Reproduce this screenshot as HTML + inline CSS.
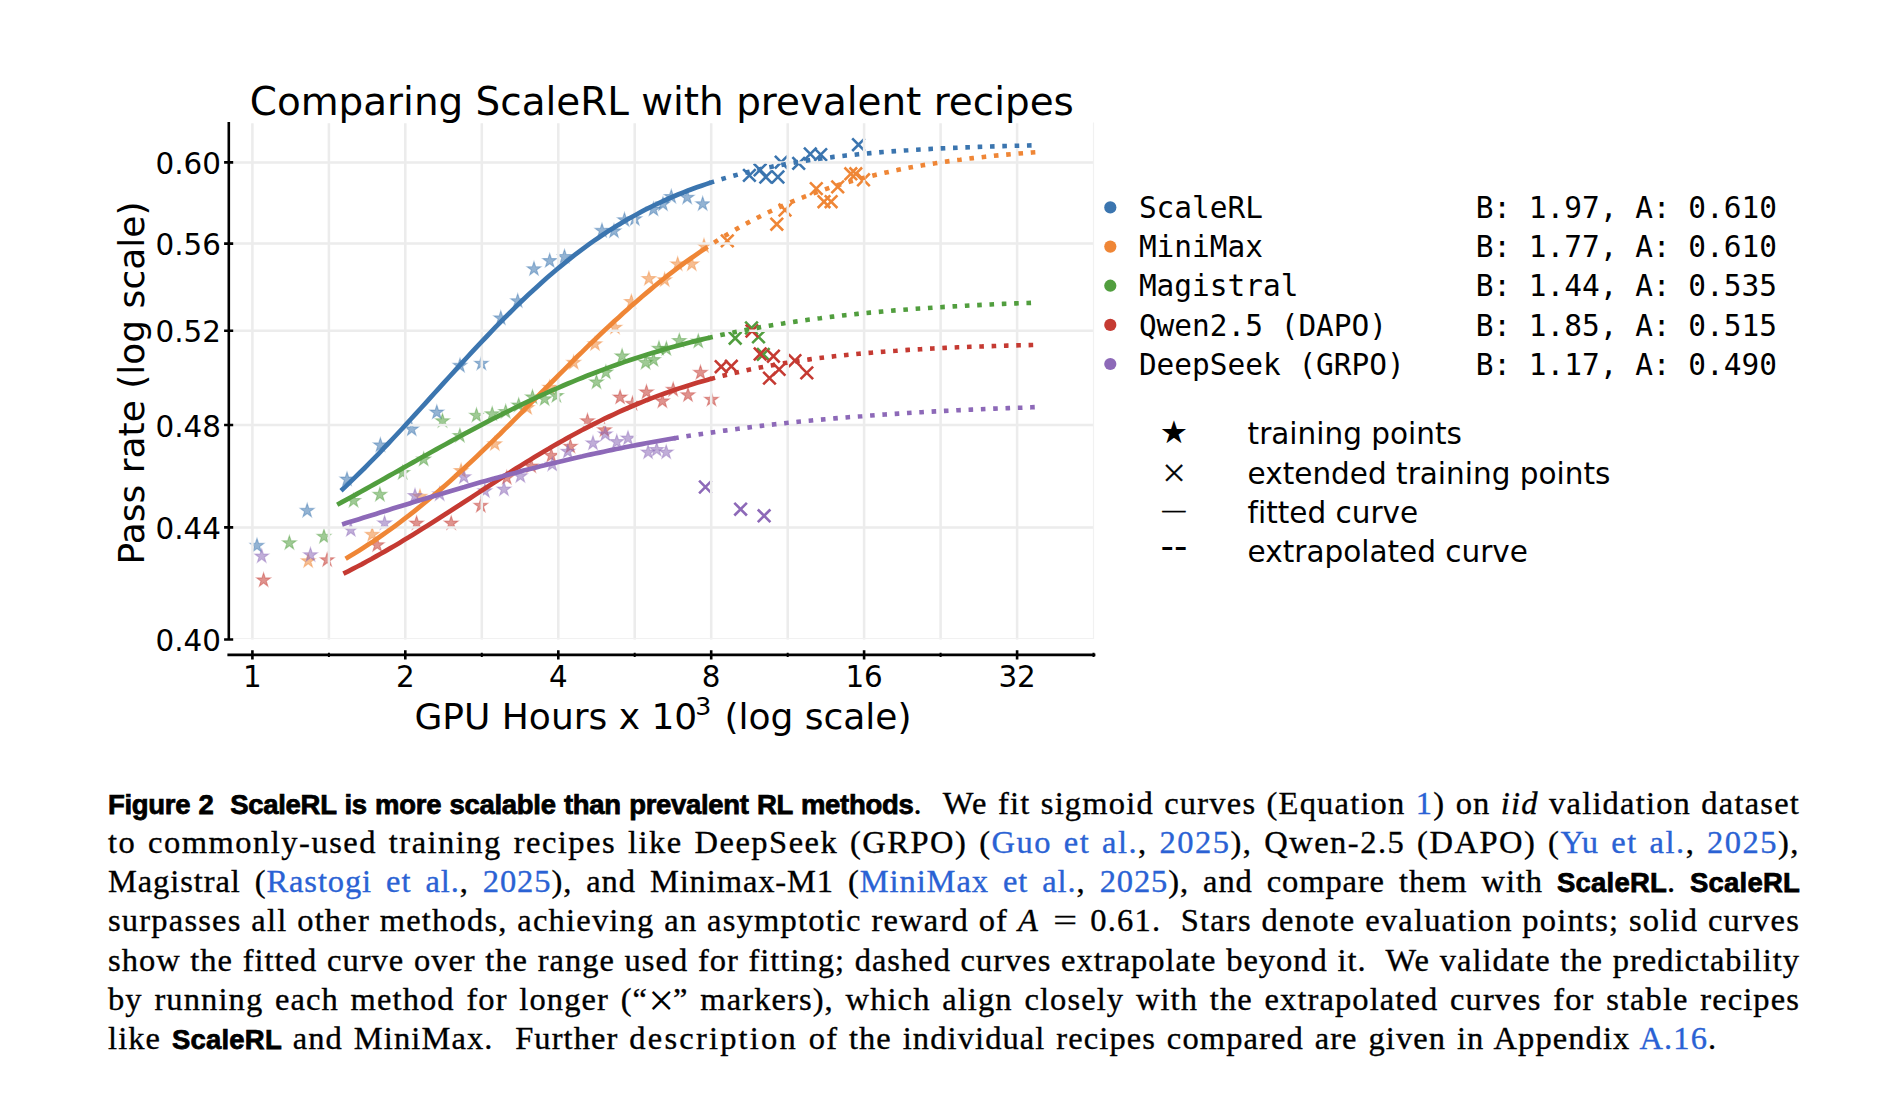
<!DOCTYPE html>
<html><head><meta charset="utf-8"><title>Figure 2</title>
<style>
html,body{margin:0;padding:0;background:#fff}
body{width:1890px;height:1094px;position:relative;overflow:hidden}
.ln{position:absolute;left:108px;width:1692px;height:40px;line-height:40px;font-family:"Liberation Serif",serif;font-size:32.5px;color:#000;text-align:justify;text-align-last:justify;white-space:nowrap;-webkit-text-stroke:0.35px currentColor}
.ln.last{text-align:left;text-align-last:left;word-spacing:1.6px}
.ln b{font-family:"Liberation Sans",sans-serif;font-weight:bold;font-size:27.5px;letter-spacing:-0.3px;-webkit-text-stroke:0.75px currentColor}
.ln b.s{letter-spacing:0.2px}
.ln .eq{display:inline-block;transform:scaleX(1.3);margin:0 16px 0 17px;letter-spacing:0}
.ln .w{letter-spacing:2.2px}
.ln .l{color:#2a62d4}
.ln .x{font-size:46px;line-height:0;position:relative;top:6.5px;letter-spacing:0;margin:0 -1px 0 0;-webkit-text-stroke:0}
</style></head><body>
<svg width="1890" height="760" viewBox="0 0 1890 760" style="position:absolute;left:0;top:0">
<g stroke-width="1.1" stroke-linejoin="miter">
<g fill="#3b75af" fill-opacity="0.55" stroke="#3b75af" stroke-opacity="0.4">
<polygon points="257.0,538.3 258.7,543.4 264.0,543.4 259.7,546.6 261.3,551.7 257.0,548.5 252.7,551.7 254.3,546.6 250.0,543.4 255.3,543.4"/>
<polygon points="307.2,503.3 308.9,508.4 314.2,508.4 309.9,511.6 311.5,516.7 307.2,513.5 302.9,516.7 304.5,511.6 300.2,508.4 305.5,508.4"/>
<polygon points="347.0,472.0 348.7,477.1 354.0,477.1 349.7,480.3 351.3,485.4 347.0,482.2 342.7,485.4 344.3,480.3 340.0,477.1 345.3,477.1"/>
<polygon points="380.4,437.8 382.1,442.9 387.4,442.9 383.1,446.1 384.7,451.2 380.4,448.0 376.1,451.2 377.7,446.1 373.4,442.9 378.7,442.9"/>
<polygon points="411.7,421.8 413.4,426.9 418.7,426.9 414.4,430.1 416.0,435.2 411.7,432.0 407.4,435.2 409.0,430.1 404.7,426.9 410.0,426.9"/>
<polygon points="436.8,405.0 438.5,410.1 443.8,410.1 439.5,413.3 441.1,418.4 436.8,415.2 432.5,418.4 434.1,413.3 429.8,410.1 435.1,410.1"/>
<polygon points="460.0,358.3 461.7,363.4 467.0,363.4 462.7,366.6 464.3,371.7 460.0,368.5 455.7,371.7 457.3,366.6 453.0,363.4 458.3,363.4"/>
<polygon points="481.4,356.1 483.1,361.2 488.4,361.2 484.1,364.4 485.7,369.5 481.4,366.3 477.1,369.5 478.7,364.4 474.4,361.2 479.7,361.2"/>
<polygon points="500.8,310.8 502.5,315.9 507.8,315.9 503.5,319.1 505.1,324.2 500.8,321.0 496.5,324.2 498.1,319.1 493.8,315.9 499.1,315.9"/>
<polygon points="517.7,293.7 519.4,298.8 524.7,298.8 520.4,302.0 522.0,307.1 517.7,303.9 513.4,307.1 515.0,302.0 510.7,298.8 516.0,298.8"/>
<polygon points="534.0,261.6 535.7,266.7 541.0,266.7 536.7,269.9 538.3,275.0 534.0,271.8 529.7,275.0 531.3,269.9 527.0,266.7 532.3,266.7"/>
<polygon points="549.7,253.5 551.4,258.6 556.7,258.6 552.4,261.8 554.0,266.9 549.7,263.7 545.4,266.9 547.0,261.8 542.7,258.6 548.0,258.6"/>
<polygon points="564.5,249.4 566.2,254.5 571.5,254.5 567.2,257.7 568.8,262.8 564.5,259.6 560.2,262.8 561.8,257.7 557.5,254.5 562.8,254.5"/>
<polygon points="602.0,223.3 603.7,228.4 609.0,228.4 604.7,231.6 606.3,236.7 602.0,233.5 597.7,236.7 599.3,231.6 595.0,228.4 600.3,228.4"/>
<polygon points="614.0,223.8 615.7,228.9 621.0,228.9 616.7,232.1 618.3,237.2 614.0,234.0 609.7,237.2 611.3,232.1 607.0,228.9 612.3,228.9"/>
<polygon points="624.5,212.6 626.2,217.7 631.5,217.7 627.2,220.9 628.8,226.0 624.5,222.8 620.2,226.0 621.8,220.9 617.5,217.7 622.8,217.7"/>
<polygon points="634.8,211.6 636.5,216.7 641.8,216.7 637.5,219.9 639.1,225.0 634.8,221.8 630.5,225.0 632.1,219.9 627.8,216.7 633.1,216.7"/>
<polygon points="653.5,202.0 655.2,207.1 660.5,207.1 656.2,210.3 657.8,215.4 653.5,212.2 649.2,215.4 650.8,210.3 646.5,207.1 651.8,207.1"/>
<polygon points="663.0,196.8 664.7,201.9 670.0,201.9 665.7,205.1 667.3,210.2 663.0,207.0 658.7,210.2 660.3,205.1 656.0,201.9 661.3,201.9"/>
<polygon points="671.3,189.4 673.0,194.5 678.3,194.5 674.0,197.7 675.6,202.8 671.3,199.6 667.0,202.8 668.6,197.7 664.3,194.5 669.6,194.5"/>
<polygon points="687.2,190.1 688.9,195.2 694.2,195.2 689.9,198.4 691.5,203.5 687.2,200.3 682.9,203.5 684.5,198.4 680.2,195.2 685.5,195.2"/>
<polygon points="702.7,196.6 704.4,201.7 709.7,201.7 705.4,204.9 707.0,210.0 702.7,206.8 698.4,210.0 700.0,204.9 695.7,201.7 701.0,201.7"/>
</g>
<g fill="#ef8636" fill-opacity="0.55" stroke="#ef8636" stroke-opacity="0.4">
<polygon points="308.2,553.6 309.9,558.7 315.2,558.7 310.9,561.9 312.5,567.0 308.2,563.8 303.9,567.0 305.5,561.9 301.2,558.7 306.5,558.7"/>
<polygon points="372.2,527.3 373.9,532.4 379.2,532.4 374.9,535.6 376.5,540.7 372.2,537.5 367.9,540.7 369.5,535.6 365.2,532.4 370.5,532.4"/>
<polygon points="420.0,489.3 421.7,494.4 427.0,494.4 422.7,497.6 424.3,502.7 420.0,499.5 415.7,502.7 417.3,497.6 413.0,494.4 418.3,494.4"/>
<polygon points="461.1,463.5 462.8,468.6 468.1,468.6 463.8,471.8 465.4,476.9 461.1,473.7 456.8,476.9 458.4,471.8 454.1,468.6 459.4,468.6"/>
<polygon points="494.8,436.7 496.5,441.8 501.8,441.8 497.5,445.0 499.1,450.1 494.8,446.9 490.5,450.1 492.1,445.0 487.8,441.8 493.1,441.8"/>
<polygon points="527.2,400.5 528.9,405.6 534.2,405.6 529.9,408.8 531.5,413.9 527.2,410.7 522.9,413.9 524.5,408.8 520.2,405.6 525.5,405.6"/>
<polygon points="549.6,380.1 551.3,385.2 556.6,385.2 552.3,388.4 553.9,393.5 549.6,390.3 545.3,393.5 546.9,388.4 542.6,385.2 547.9,385.2"/>
<polygon points="573.7,355.3 575.4,360.4 580.7,360.4 576.4,363.6 578.0,368.7 573.7,365.5 569.4,368.7 571.0,363.6 566.7,360.4 572.0,360.4"/>
<polygon points="595.0,336.7 596.7,341.8 602.0,341.8 597.7,345.0 599.3,350.1 595.0,346.9 590.7,350.1 592.3,345.0 588.0,341.8 593.3,341.8"/>
<polygon points="615.0,320.1 616.7,325.2 622.0,325.2 617.7,328.4 619.3,333.5 615.0,330.3 610.7,333.5 612.3,328.4 608.0,325.2 613.3,325.2"/>
<polygon points="631.4,294.4 633.1,299.5 638.4,299.5 634.1,302.7 635.7,307.8 631.4,304.6 627.1,307.8 628.7,302.7 624.4,299.5 629.7,299.5"/>
<polygon points="648.9,271.4 650.6,276.5 655.9,276.5 651.6,279.7 653.2,284.8 648.9,281.6 644.6,284.8 646.2,279.7 641.9,276.5 647.2,276.5"/>
<polygon points="664.7,272.6 666.4,277.7 671.7,277.7 667.4,280.9 669.0,286.0 664.7,282.8 660.4,286.0 662.0,280.9 657.7,277.7 663.0,277.7"/>
<polygon points="677.7,256.8 679.4,261.9 684.7,261.9 680.4,265.1 682.0,270.2 677.7,267.0 673.4,270.2 675.0,265.1 670.7,261.9 676.0,261.9"/>
<polygon points="691.8,256.8 693.5,261.9 698.8,261.9 694.5,265.1 696.1,270.2 691.8,267.0 687.5,270.2 689.1,265.1 684.8,261.9 690.1,261.9"/>
<polygon points="704.0,238.6 705.7,243.7 711.0,243.7 706.7,246.9 708.3,252.0 704.0,248.8 699.7,252.0 701.3,246.9 697.0,243.7 702.3,243.7"/>
</g>
<g fill="#519e3e" fill-opacity="0.55" stroke="#519e3e" stroke-opacity="0.4">
<polygon points="289.4,535.6 291.1,540.7 296.4,540.7 292.1,543.9 293.7,549.0 289.4,545.8 285.1,549.0 286.7,543.9 282.4,540.7 287.7,540.7"/>
<polygon points="324.0,529.3 325.7,534.4 331.0,534.4 326.7,537.6 328.3,542.7 324.0,539.5 319.7,542.7 321.3,537.6 317.0,534.4 322.3,534.4"/>
<polygon points="353.6,493.4 355.3,498.5 360.6,498.5 356.3,501.7 357.9,506.8 353.6,503.6 349.3,506.8 350.9,501.7 346.6,498.5 351.9,498.5"/>
<polygon points="379.9,487.3 381.6,492.4 386.9,492.4 382.6,495.6 384.2,500.7 379.9,497.5 375.6,500.7 377.2,495.6 372.9,492.4 378.2,492.4"/>
<polygon points="402.7,465.5 404.4,470.6 409.7,470.6 405.4,473.8 407.0,478.9 402.7,475.7 398.4,478.9 400.0,473.8 395.7,470.6 401.0,470.6"/>
<polygon points="423.7,452.0 425.4,457.1 430.7,457.1 426.4,460.3 428.0,465.4 423.7,462.2 419.4,465.4 421.0,460.3 416.7,457.1 422.0,457.1"/>
<polygon points="442.5,413.6 444.2,418.7 449.5,418.7 445.2,421.9 446.8,427.0 442.5,423.8 438.2,427.0 439.8,421.9 435.5,418.7 440.8,418.7"/>
<polygon points="459.9,428.4 461.6,433.5 466.9,433.5 462.6,436.7 464.2,441.8 459.9,438.6 455.6,441.8 457.2,436.7 452.9,433.5 458.2,433.5"/>
<polygon points="476.5,408.1 478.2,413.2 483.5,413.2 479.2,416.4 480.8,421.5 476.5,418.3 472.2,421.5 473.8,416.4 469.5,413.2 474.8,413.2"/>
<polygon points="492.2,406.7 493.9,411.8 499.2,411.8 494.9,415.0 496.5,420.1 492.2,416.9 487.9,420.1 489.5,415.0 485.2,411.8 490.5,411.8"/>
<polygon points="505.7,404.4 507.4,409.5 512.7,409.5 508.4,412.7 510.0,417.8 505.7,414.6 501.4,417.8 503.0,412.7 498.7,409.5 504.0,409.5"/>
<polygon points="518.7,397.9 520.4,403.0 525.7,403.0 521.4,406.2 523.0,411.3 518.7,408.1 514.4,411.3 516.0,406.2 511.7,403.0 517.0,403.0"/>
<polygon points="532.5,389.8 534.2,394.9 539.5,394.9 535.2,398.1 536.8,403.2 532.5,400.0 528.2,403.2 529.8,398.1 525.5,394.9 530.8,394.9"/>
<polygon points="544.6,391.7 546.3,396.8 551.6,396.8 547.3,400.0 548.9,405.1 544.6,401.9 540.3,405.1 541.9,400.0 537.6,396.8 542.9,396.8"/>
<polygon points="556.4,388.5 558.1,393.6 563.4,393.6 559.1,396.8 560.7,401.9 556.4,398.7 552.1,401.9 553.7,396.8 549.4,393.6 554.7,393.6"/>
<polygon points="596.5,374.8 598.2,379.9 603.5,379.9 599.2,383.1 600.8,388.2 596.5,385.0 592.2,388.2 593.8,383.1 589.5,379.9 594.8,379.9"/>
<polygon points="605.9,365.0 607.6,370.1 612.9,370.1 608.6,373.3 610.2,378.4 605.9,375.2 601.6,378.4 603.2,373.3 598.9,370.1 604.2,370.1"/>
<polygon points="622.1,348.8 623.8,353.9 629.1,353.9 624.8,357.1 626.4,362.2 622.1,359.0 617.8,362.2 619.4,357.1 615.1,353.9 620.4,353.9"/>
<polygon points="645.6,355.3 647.3,360.4 652.6,360.4 648.3,363.6 649.9,368.7 645.6,365.5 641.3,368.7 642.9,363.6 638.6,360.4 643.9,360.4"/>
<polygon points="653.5,352.5 655.2,357.6 660.5,357.6 656.2,360.8 657.8,365.9 653.5,362.7 649.2,365.9 650.8,360.8 646.5,357.6 651.8,357.6"/>
<polygon points="659.0,341.1 660.7,346.2 666.0,346.2 661.7,349.4 663.3,354.5 659.0,351.3 654.7,354.5 656.3,349.4 652.0,346.2 657.3,346.2"/>
<polygon points="666.4,341.5 668.1,346.6 673.4,346.6 669.1,349.8 670.7,354.9 666.4,351.7 662.1,354.9 663.7,349.8 659.4,346.6 664.7,346.6"/>
<polygon points="679.3,333.4 681.0,338.5 686.3,338.5 682.0,341.7 683.6,346.8 679.3,343.6 675.0,346.8 676.6,341.7 672.3,338.5 677.6,338.5"/>
<polygon points="698.3,334.0 700.0,339.1 705.3,339.1 701.0,342.3 702.6,347.4 698.3,344.2 694.0,347.4 695.6,342.3 691.3,339.1 696.6,339.1"/>
</g>
<g fill="#c53a32" fill-opacity="0.55" stroke="#c53a32" stroke-opacity="0.4">
<polygon points="263.6,572.8 265.3,577.9 270.6,577.9 266.3,581.1 267.9,586.2 263.6,583.0 259.3,586.2 260.9,581.1 256.6,577.9 261.9,577.9"/>
<polygon points="327.2,552.6 328.9,557.7 334.2,557.7 329.9,560.9 331.5,566.0 327.2,562.8 322.9,566.0 324.5,560.9 320.2,557.7 325.5,557.7"/>
<polygon points="377.2,537.7 378.9,542.8 384.2,542.8 379.9,546.0 381.5,551.1 377.2,547.9 372.9,551.1 374.5,546.0 370.2,542.8 375.5,542.8"/>
<polygon points="416.6,515.9 418.3,521.0 423.6,521.0 419.3,524.2 420.9,529.3 416.6,526.1 412.3,529.3 413.9,524.2 409.6,521.0 414.9,521.0"/>
<polygon points="451.2,515.9 452.9,521.0 458.2,521.0 453.9,524.2 455.5,529.3 451.2,526.1 446.9,529.3 448.5,524.2 444.2,521.0 449.5,521.0"/>
<polygon points="480.8,498.3 482.5,503.4 487.8,503.4 483.5,506.6 485.1,511.7 480.8,508.5 476.5,511.7 478.1,506.6 473.8,503.4 479.1,503.4"/>
<polygon points="506.8,470.4 508.5,475.5 513.8,475.5 509.5,478.7 511.1,483.8 506.8,480.6 502.5,483.8 504.1,478.7 499.8,475.5 505.1,475.5"/>
<polygon points="531.3,458.9 533.0,464.0 538.3,464.0 534.0,467.2 535.6,472.3 531.3,469.1 527.0,472.3 528.6,467.2 524.3,464.0 529.6,464.0"/>
<polygon points="551.3,448.2 553.0,453.3 558.3,453.3 554.0,456.5 555.6,461.6 551.3,458.4 547.0,461.6 548.6,456.5 544.3,453.3 549.6,453.3"/>
<polygon points="570.4,439.1 572.1,444.2 577.4,444.2 573.1,447.4 574.7,452.5 570.4,449.3 566.1,452.5 567.7,447.4 563.4,444.2 568.7,444.2"/>
<polygon points="587.5,413.6 589.2,418.7 594.5,418.7 590.2,421.9 591.8,427.0 587.5,423.8 583.2,427.0 584.8,421.9 580.5,418.7 585.8,418.7"/>
<polygon points="604.5,422.7 606.2,427.8 611.5,427.8 607.2,431.0 608.8,436.1 604.5,432.9 600.2,436.1 601.8,431.0 597.5,427.8 602.8,427.8"/>
<polygon points="620.1,390.0 621.8,395.1 627.1,395.1 622.8,398.3 624.4,403.4 620.1,400.2 615.8,403.4 617.4,398.3 613.1,395.1 618.4,395.1"/>
<polygon points="632.5,396.3 634.2,401.4 639.5,401.4 635.2,404.6 636.8,409.7 632.5,406.5 628.2,409.7 629.8,404.6 625.5,401.4 630.8,401.4"/>
<polygon points="646.5,384.8 648.2,389.9 653.5,389.9 649.2,393.1 650.8,398.2 646.5,395.0 642.2,398.2 643.8,393.1 639.5,389.9 644.8,389.9"/>
<polygon points="662.4,393.8 664.1,398.9 669.4,398.9 665.1,402.1 666.7,407.2 662.4,404.0 658.1,407.2 659.7,402.1 655.4,398.9 660.7,398.9"/>
<polygon points="673.2,382.3 674.9,387.4 680.2,387.4 675.9,390.6 677.5,395.7 673.2,392.5 668.9,395.7 670.5,390.6 666.2,387.4 671.5,387.4"/>
<polygon points="688.0,387.7 689.7,392.8 695.0,392.8 690.7,396.0 692.3,401.1 688.0,397.9 683.7,401.1 685.3,396.0 681.0,392.8 686.3,392.8"/>
<polygon points="700.5,365.3 702.2,370.4 707.5,370.4 703.2,373.6 704.8,378.7 700.5,375.5 696.2,378.7 697.8,373.6 693.5,370.4 698.8,370.4"/>
<polygon points="711.5,392.2 713.2,397.3 718.5,397.3 714.2,400.5 715.8,405.6 711.5,402.4 707.2,405.6 708.8,400.5 704.5,397.3 709.8,397.3"/>
</g>
<g fill="#8d69b8" fill-opacity="0.55" stroke="#8d69b8" stroke-opacity="0.4">
<polygon points="261.7,548.9 263.4,554.0 268.7,554.0 264.4,557.2 266.0,562.3 261.7,559.1 257.4,562.3 259.0,557.2 254.7,554.0 260.0,554.0"/>
<polygon points="310.5,547.6 312.2,552.7 317.5,552.7 313.2,555.9 314.8,561.0 310.5,557.8 306.2,561.0 307.8,555.9 303.5,552.7 308.8,552.7"/>
<polygon points="350.8,522.5 352.5,527.6 357.8,527.6 353.5,530.8 355.1,535.9 350.8,532.7 346.5,535.9 348.1,530.8 343.8,527.6 349.1,527.6"/>
<polygon points="384.6,515.8 386.3,520.9 391.6,520.9 387.3,524.1 388.9,529.2 384.6,526.0 380.3,529.2 381.9,524.1 377.6,520.9 382.9,520.9"/>
<polygon points="415.0,488.5 416.7,493.6 422.0,493.6 417.7,496.8 419.3,501.9 415.0,498.7 410.7,501.9 412.3,496.8 408.0,493.6 413.3,493.6"/>
<polygon points="439.7,486.8 441.4,491.9 446.7,491.9 442.4,495.1 444.0,500.2 439.7,497.0 435.4,500.2 437.0,495.1 432.7,491.9 438.0,491.9"/>
<polygon points="463.9,469.6 465.6,474.7 470.9,474.7 466.6,477.9 468.2,483.0 463.9,479.8 459.6,483.0 461.2,477.9 456.9,474.7 462.2,474.7"/>
<polygon points="484.9,483.6 486.6,488.7 491.9,488.7 487.6,491.9 489.2,497.0 484.9,493.8 480.6,497.0 482.2,491.9 477.9,488.7 483.2,488.7"/>
<polygon points="504.0,481.9 505.7,487.0 511.0,487.0 506.7,490.2 508.3,495.3 504.0,492.1 499.7,495.3 501.3,490.2 497.0,487.0 502.3,487.0"/>
<polygon points="520.4,468.7 522.1,473.8 527.4,473.8 523.1,477.0 524.7,482.1 520.4,478.9 516.1,482.1 517.7,477.0 513.4,473.8 518.7,473.8"/>
<polygon points="552.3,457.2 554.0,462.3 559.3,462.3 555.0,465.5 556.6,470.6 552.3,467.4 548.0,470.6 549.6,465.5 545.3,462.3 550.6,462.3"/>
<polygon points="567.8,444.1 569.5,449.2 574.8,449.2 570.5,452.4 572.1,457.5 567.8,454.3 563.5,457.5 565.1,452.4 560.8,449.2 566.1,449.2"/>
<polygon points="593.0,435.8 594.7,440.9 600.0,440.9 595.7,444.1 597.3,449.2 593.0,446.0 588.7,449.2 590.3,444.1 586.0,440.9 591.3,440.9"/>
<polygon points="605.3,426.8 607.0,431.9 612.3,431.9 608.0,435.1 609.6,440.2 605.3,437.0 601.0,440.2 602.6,435.1 598.3,431.9 603.6,431.9"/>
<polygon points="616.8,434.5 618.5,439.6 623.8,439.6 619.5,442.8 621.1,447.9 616.8,444.7 612.5,447.9 614.1,442.8 609.8,439.6 615.1,439.6"/>
<polygon points="628.0,430.9 629.7,436.0 635.0,436.0 630.7,439.2 632.3,444.3 628.0,441.1 623.7,444.3 625.3,439.2 621.0,436.0 626.3,436.0"/>
<polygon points="648.1,444.9 649.8,450.0 655.1,450.0 650.8,453.2 652.4,458.3 648.1,455.1 643.8,458.3 645.4,453.2 641.1,450.0 646.4,450.0"/>
<polygon points="656.7,442.4 658.4,447.5 663.7,447.5 659.4,450.7 661.0,455.8 656.7,452.6 652.4,455.8 654.0,450.7 649.7,447.5 655.0,447.5"/>
<polygon points="666.2,444.9 667.9,450.0 673.2,450.0 668.9,453.2 670.5,458.3 666.2,455.1 661.9,458.3 663.5,453.2 659.2,450.0 664.5,450.0"/>
</g>
</g>
<g stroke-width="2.6" fill="none">
<path stroke="#3b75af" d="M743.1,169.1L755.7,181.7M743.1,181.7L755.7,169.1M753.8,163.6L766.4,176.2M753.8,176.2L766.4,163.6M759.5,170.7L772.1,183.3M759.5,183.3L772.1,170.7M771.6,170.7L784.2,183.3M771.6,183.3L784.2,170.7M774.9,155.9L787.5,168.5M774.9,168.5L787.5,155.9M792.4,157.1L805.0,169.7M792.4,169.7L805.0,157.1M804.0,147.7L816.6,160.3M804.0,160.3L816.6,147.7M814.4,148.3L827.0,160.9M814.4,160.9L827.0,148.3M852.2,138.4L864.8,151.0M852.2,151.0L864.8,138.4"/>
<path stroke="#ef8636" d="M721.0,234.6L733.6,247.2M721.0,247.2L733.6,234.6M770.5,217.9L783.1,230.5M770.5,230.5L783.1,217.9M778.7,203.7L791.3,216.3M778.7,216.3L791.3,203.7M810.0,182.3L822.6,194.9M810.0,194.9L822.6,182.3M817.7,195.4L830.3,208.0M817.7,208.0L830.3,195.4M824.8,195.4L837.4,208.0M824.8,208.0L837.4,195.4M831.4,180.6L844.0,193.2M831.4,193.2L844.0,180.6M844.5,167.5L857.1,180.1M844.5,180.1L857.1,167.5M849.5,167.5L862.1,180.1M849.5,180.1L862.1,167.5M857.2,173.5L869.8,186.1M857.2,186.1L869.8,173.5"/>
<path stroke="#519e3e" d="M728.9,331.9L741.5,344.5M728.9,344.5L741.5,331.9M745.2,321.7L757.8,334.3M745.2,334.3L757.8,321.7M752.2,330.6L764.8,343.2M752.2,343.2L764.8,330.6M757.0,348.1L769.6,360.7M757.0,360.7L769.6,348.1"/>
<path stroke="#c53a32" d="M714.9,360.4L727.5,373.0M714.9,373.0L727.5,360.4M725.0,360.0L737.6,372.6M725.0,372.6L737.6,360.0M745.7,324.7L758.3,337.3M745.7,337.3L758.3,324.7M753.9,347.7L766.5,360.3M753.9,360.3L766.5,347.7M767.1,349.9L779.7,362.5M767.1,362.5L779.7,349.9M772.8,363.1L785.4,375.7M772.8,375.7L785.4,363.1M763.2,371.8L775.8,384.4M763.2,384.4L775.8,371.8M788.6,354.3L801.2,366.9M788.6,366.9L801.2,354.3M800.5,366.6L813.1,379.2M800.5,379.2L813.1,366.6"/>
<path stroke="#8d69b8" d="M699.1,480.7L711.7,493.3M699.1,493.3L711.7,480.7M734.3,502.9L746.9,515.5M734.3,515.5L746.9,502.9M757.8,509.5L770.4,522.1M757.8,522.1L770.4,509.5"/>
</g>
<path stroke="#ececec" stroke-width="2.5" fill="none" d="M252.4,123.2V639.5M328.9,123.2V639.5M405.3,123.2V639.5M481.8,123.2V639.5M558.3,123.2V639.5M634.7,123.2V639.5M711.2,123.2V639.5M787.7,123.2V639.5M864.1,123.2V639.5M940.6,123.2V639.5M1017.1,123.2V639.5M230,527.4H1094M230,425.0H1094M230,330.8H1094M230,243.6H1094M230,162.4H1094"/>
<path stroke="#f1f1f1" stroke-width="1.2" fill="none" d="M230,638.5H1094M1093.5,122.5V639"/>
<path stroke="#3b75af" stroke-width="4.7" fill="none" d="M341.0,490.8 L345.7,486.4 L350.4,481.9 L355.0,477.4 L359.7,472.8 L364.4,468.2 L369.1,463.4 L373.8,458.7 L378.5,453.8 L383.1,448.9 L387.8,444.0 L392.5,439.0 L397.2,434.0 L401.9,429.0 L406.6,423.9 L411.2,418.8 L415.9,413.7 L420.6,408.5 L425.3,403.4 L430.0,398.2 L434.6,393.0 L439.3,387.9 L444.0,382.7 L448.7,377.5 L453.4,372.4 L458.1,367.2 L462.7,362.1 L467.4,357.0 L472.1,351.9 L476.8,346.9 L481.5,341.9 L486.2,337.0 L490.8,332.1 L495.5,327.2 L500.2,322.4 L504.9,317.6 L509.6,313.0 L514.2,308.3 L518.9,303.8 L523.6,299.3 L528.3,294.8 L533.0,290.5 L537.7,286.2 L542.3,282.0 L547.0,277.8 L551.7,273.8 L556.4,269.8 L561.1,265.9 L565.7,262.1 L570.4,258.3 L575.1,254.7 L579.8,251.1 L584.5,247.6 L589.2,244.2 L593.8,240.9 L598.5,237.7 L603.2,234.5 L607.9,231.4 L612.6,228.4 L617.3,225.5 L621.9,222.7 L626.6,219.9 L631.3,217.3 L636.0,214.7 L640.7,212.1 L645.3,209.7 L650.0,207.3 L654.7,205.0 L659.4,202.8 L664.1,200.6 L668.8,198.5 L673.4,196.5 L678.1,194.5 L682.8,192.7 L687.5,190.8 L692.2,189.0 L696.9,187.3 L701.5,185.7 L706.2,184.1 L710.9,182.5"/>
<path stroke="#3b75af" stroke-width="4.6" fill="none" stroke-dasharray="4.6 7.73" d="M709.7,182.9 L713.8,181.6 L718.0,180.3 L722.1,179.0 L726.2,177.8 L730.4,176.6 L734.5,175.5 L738.6,174.4 L742.7,173.3 L746.9,172.3 L751.0,171.3 L755.1,170.3 L759.3,169.4 L763.4,168.5 L767.5,167.6 L771.7,166.8 L775.8,165.9 L779.9,165.2 L784.0,164.4 L788.2,163.6 L792.3,162.9 L796.4,162.2 L800.6,161.6 L804.7,160.9 L808.8,160.3 L813.0,159.7 L817.1,159.1 L821.2,158.5 L825.4,158.0 L829.5,157.5 L833.6,156.9 L837.7,156.5 L841.9,156.0 L846.0,155.5 L850.1,155.1 L854.3,154.7 L858.4,154.2 L862.5,153.8 L866.7,153.5 L870.8,153.1 L874.9,152.7 L879.0,152.4 L883.2,152.0 L887.3,151.7 L891.4,151.4 L895.6,151.1 L899.7,150.8 L903.8,150.5 L908.0,150.3 L912.1,150.0 L916.2,149.8 L920.3,149.5 L924.5,149.3 L928.6,149.1 L932.7,148.8 L936.9,148.6 L941.0,148.4 L945.1,148.2 L949.3,148.0 L953.4,147.9 L957.5,147.7 L961.7,147.5 L965.8,147.4 L969.9,147.2 L974.0,147.1 L978.2,146.9 L982.3,146.8 L986.4,146.6 L990.6,146.5 L994.7,146.4 L998.8,146.2 L1003.0,146.1 L1007.1,146.0 L1011.2,145.9 L1015.3,145.8 L1019.5,145.7 L1023.6,145.6 L1027.7,145.5 L1031.9,145.4 L1036.0,145.3"/>
<path stroke="#ef8636" stroke-width="4.7" fill="none" d="M345.6,558.7 L350.1,556.0 L354.7,553.2 L359.2,550.4 L363.8,547.5 L368.3,544.6 L372.9,541.6 L377.4,538.5 L382.0,535.3 L386.5,532.1 L391.1,528.9 L395.6,525.5 L400.2,522.1 L404.7,518.7 L409.3,515.2 L413.8,511.6 L418.4,507.9 L422.9,504.2 L427.5,500.5 L432.0,496.7 L436.6,492.8 L441.1,488.9 L445.7,484.9 L450.2,480.9 L454.8,476.8 L459.3,472.6 L463.9,468.5 L468.4,464.3 L473.0,460.0 L477.5,455.7 L482.1,451.3 L486.6,447.0 L491.2,442.6 L495.7,438.1 L500.3,433.7 L504.8,429.2 L509.4,424.7 L513.9,420.1 L518.5,415.6 L523.0,411.0 L527.6,406.4 L532.1,401.9 L536.7,397.3 L541.2,392.7 L545.8,388.1 L550.3,383.5 L554.9,379.0 L559.4,374.4 L564.0,369.9 L568.5,365.3 L573.1,360.8 L577.6,356.3 L582.2,351.9 L586.7,347.4 L591.3,343.0 L595.8,338.7 L600.4,334.3 L604.9,330.0 L609.5,325.8 L614.0,321.5 L618.6,317.4 L623.1,313.2 L627.7,309.2 L632.2,305.1 L636.8,301.2 L641.3,297.2 L645.9,293.4 L650.4,289.6 L655.0,285.8 L659.5,282.1 L664.1,278.5 L668.6,274.9 L673.2,271.4 L677.7,267.9 L682.3,264.5 L686.8,261.2 L691.4,258.0 L695.9,254.8 L700.5,251.6 L705.0,248.6"/>
<path stroke="#ef8636" stroke-width="4.6" fill="none" stroke-dasharray="4.6 7.73" d="M703.8,249.4 L708.0,246.6 L712.2,243.8 L716.4,241.1 L720.6,238.5 L724.8,235.9 L729.0,233.4 L733.2,230.9 L737.4,228.5 L741.6,226.1 L745.9,223.8 L750.1,221.6 L754.3,219.4 L758.5,217.2 L762.7,215.1 L766.9,213.0 L771.1,211.0 L775.3,209.1 L779.5,207.2 L783.7,205.3 L787.9,203.5 L792.1,201.7 L796.3,200.0 L800.5,198.3 L804.7,196.7 L808.9,195.1 L813.1,193.5 L817.3,192.0 L821.5,190.5 L825.7,189.1 L830.0,187.7 L834.2,186.4 L838.4,185.0 L842.6,183.8 L846.8,182.5 L851.0,181.3 L855.2,180.1 L859.4,179.0 L863.6,177.9 L867.8,176.8 L872.0,175.8 L876.2,174.7 L880.4,173.7 L884.6,172.8 L888.8,171.9 L893.0,170.9 L897.2,170.1 L901.4,169.2 L905.6,168.4 L909.8,167.6 L914.1,166.8 L918.3,166.1 L922.5,165.3 L926.7,164.6 L930.9,163.9 L935.1,163.3 L939.3,162.6 L943.5,162.0 L947.7,161.4 L951.9,160.8 L956.1,160.2 L960.3,159.7 L964.5,159.1 L968.7,158.6 L972.9,158.1 L977.1,157.6 L981.3,157.2 L985.5,156.7 L989.7,156.3 L993.9,155.8 L998.2,155.4 L1002.4,155.0 L1006.6,154.6 L1010.8,154.2 L1015.0,153.9 L1019.2,153.5 L1023.4,153.2 L1027.6,152.9 L1031.8,152.5 L1036.0,152.2"/>
<path stroke="#519e3e" stroke-width="4.7" fill="none" d="M337.2,504.7 L341.9,502.1 L346.6,499.6 L351.3,497.0 L356.1,494.4 L360.8,491.7 L365.5,489.1 L370.2,486.5 L374.9,483.9 L379.6,481.2 L384.3,478.6 L389.0,475.9 L393.8,473.2 L398.5,470.6 L403.2,467.9 L407.9,465.3 L412.6,462.6 L417.3,460.0 L422.0,457.3 L426.7,454.7 L431.5,452.0 L436.2,449.4 L440.9,446.8 L445.6,444.2 L450.3,441.6 L455.0,439.0 L459.7,436.5 L464.4,433.9 L469.2,431.4 L473.9,428.9 L478.6,426.4 L483.3,423.9 L488.0,421.4 L492.7,419.0 L497.4,416.6 L502.1,414.2 L506.9,411.8 L511.6,409.5 L516.3,407.2 L521.0,404.9 L525.7,402.6 L530.4,400.4 L535.1,398.2 L539.8,396.0 L544.6,393.9 L549.3,391.7 L554.0,389.6 L558.7,387.6 L563.4,385.5 L568.1,383.5 L572.8,381.6 L577.5,379.6 L582.3,377.7 L587.0,375.8 L591.7,374.0 L596.4,372.2 L601.1,370.4 L605.8,368.6 L610.5,366.9 L615.2,365.2 L620.0,363.5 L624.7,361.9 L629.4,360.3 L634.1,358.7 L638.8,357.2 L643.5,355.7 L648.2,354.2 L652.9,352.8 L657.7,351.4 L662.4,350.0 L667.1,348.6 L671.8,347.3 L676.5,346.0 L681.2,344.7 L685.9,343.5 L690.6,342.3 L695.4,341.1 L700.1,339.9 L704.8,338.8 L709.5,337.7"/>
<path stroke="#519e3e" stroke-width="4.6" fill="none" stroke-dasharray="4.6 7.73" d="M708.3,338.0 L712.4,337.0 L716.6,336.1 L720.7,335.1 L724.9,334.2 L729.0,333.3 L733.2,332.5 L737.3,331.6 L741.5,330.8 L745.6,330.0 L749.8,329.2 L753.9,328.4 L758.1,327.7 L762.2,326.9 L766.4,326.2 L770.5,325.5 L774.7,324.8 L778.8,324.1 L783.0,323.5 L787.1,322.8 L791.3,322.2 L795.4,321.6 L799.6,321.0 L803.7,320.4 L807.9,319.8 L812.0,319.3 L816.2,318.7 L820.3,318.2 L824.4,317.6 L828.6,317.1 L832.7,316.6 L836.9,316.1 L841.0,315.7 L845.2,315.2 L849.3,314.8 L853.5,314.3 L857.6,313.9 L861.8,313.5 L865.9,313.0 L870.1,312.6 L874.2,312.3 L878.4,311.9 L882.5,311.5 L886.7,311.1 L890.8,310.8 L895.0,310.4 L899.1,310.1 L903.3,309.8 L907.4,309.5 L911.6,309.1 L915.7,308.8 L919.9,308.5 L924.0,308.3 L928.1,308.0 L932.3,307.7 L936.4,307.4 L940.6,307.2 L944.7,306.9 L948.9,306.7 L953.0,306.4 L957.2,306.2 L961.3,306.0 L965.5,305.7 L969.6,305.5 L973.8,305.3 L977.9,305.1 L982.1,304.9 L986.2,304.7 L990.4,304.5 L994.5,304.3 L998.7,304.1 L1002.8,303.9 L1007.0,303.8 L1011.1,303.6 L1015.3,303.4 L1019.4,303.3 L1023.6,303.1 L1027.7,303.0 L1031.9,302.8 L1036.0,302.7"/>
<path stroke="#c53a32" stroke-width="4.7" fill="none" d="M343.4,573.7 L348.1,571.3 L352.7,568.9 L357.4,566.5 L362.1,564.1 L366.7,561.5 L371.4,559.0 L376.0,556.4 L380.7,553.8 L385.4,551.1 L390.0,548.4 L394.7,545.7 L399.4,542.9 L404.0,540.1 L408.7,537.3 L413.3,534.4 L418.0,531.6 L422.7,528.6 L427.3,525.7 L432.0,522.8 L436.7,519.8 L441.3,516.8 L446.0,513.8 L450.7,510.8 L455.3,507.8 L460.0,504.8 L464.6,501.7 L469.3,498.7 L474.0,495.6 L478.6,492.6 L483.3,489.6 L488.0,486.5 L492.6,483.5 L497.3,480.5 L502.0,477.5 L506.6,474.6 L511.3,471.6 L515.9,468.6 L520.6,465.7 L525.3,462.8 L529.9,460.0 L534.6,457.1 L539.3,454.3 L543.9,451.5 L548.6,448.8 L553.2,446.0 L557.9,443.4 L562.6,440.7 L567.2,438.1 L571.9,435.5 L576.6,433.0 L581.2,430.5 L585.9,428.1 L590.6,425.6 L595.2,423.3 L599.9,421.0 L604.5,418.7 L609.2,416.5 L613.9,414.3 L618.5,412.1 L623.2,410.0 L627.9,408.0 L632.5,406.0 L637.2,404.0 L641.9,402.1 L646.5,400.2 L651.2,398.4 L655.8,396.6 L660.5,394.9 L665.2,393.2 L669.8,391.6 L674.5,390.0 L679.2,388.4 L683.8,386.9 L688.5,385.4 L693.1,384.0 L697.8,382.6 L702.5,381.2 L707.1,379.9 L711.8,378.6"/>
<path stroke="#c53a32" stroke-width="4.6" fill="none" stroke-dasharray="4.6 7.73" d="M710.6,379.0 L714.7,377.9 L718.8,376.8 L723.0,375.7 L727.1,374.7 L731.2,373.7 L735.3,372.8 L739.4,371.8 L743.6,370.9 L747.7,370.0 L751.8,369.2 L755.9,368.3 L760.0,367.5 L764.1,366.7 L768.3,365.9 L772.4,365.2 L776.5,364.5 L780.6,363.8 L784.7,363.1 L788.9,362.4 L793.0,361.8 L797.1,361.1 L801.2,360.5 L805.3,360.0 L809.5,359.4 L813.6,358.8 L817.7,358.3 L821.8,357.8 L825.9,357.3 L830.1,356.8 L834.2,356.3 L838.3,355.8 L842.4,355.4 L846.5,355.0 L850.6,354.6 L854.8,354.2 L858.9,353.8 L863.0,353.4 L867.1,353.0 L871.2,352.7 L875.4,352.3 L879.5,352.0 L883.6,351.7 L887.7,351.3 L891.8,351.0 L896.0,350.8 L900.1,350.5 L904.2,350.2 L908.3,349.9 L912.4,349.7 L916.5,349.4 L920.7,349.2 L924.8,348.9 L928.9,348.7 L933.0,348.5 L937.1,348.3 L941.3,348.1 L945.4,347.9 L949.5,347.7 L953.6,347.5 L957.7,347.3 L961.9,347.2 L966.0,347.0 L970.1,346.8 L974.2,346.7 L978.3,346.5 L982.5,346.4 L986.6,346.2 L990.7,346.1 L994.8,346.0 L998.9,345.8 L1003.0,345.7 L1007.2,345.6 L1011.3,345.5 L1015.4,345.4 L1019.5,345.3 L1023.6,345.2 L1027.8,345.1 L1031.9,345.0 L1036.0,344.9"/>
<path stroke="#8d69b8" stroke-width="4.7" fill="none" d="M342.1,524.4 L346.3,523.1 L350.5,521.8 L354.8,520.5 L359.0,519.2 L363.2,517.8 L367.4,516.5 L371.6,515.2 L375.9,513.9 L380.1,512.6 L384.3,511.2 L388.5,509.9 L392.7,508.6 L396.9,507.3 L401.2,506.0 L405.4,504.7 L409.6,503.4 L413.8,502.1 L418.0,500.8 L422.3,499.5 L426.5,498.2 L430.7,497.0 L434.9,495.7 L439.1,494.4 L443.4,493.2 L447.6,491.9 L451.8,490.7 L456.0,489.4 L460.2,488.2 L464.5,487.0 L468.7,485.7 L472.9,484.5 L477.1,483.3 L481.3,482.1 L485.5,480.9 L489.8,479.7 L494.0,478.6 L498.2,477.4 L502.4,476.3 L506.6,475.1 L510.9,474.0 L515.1,472.9 L519.3,471.7 L523.5,470.6 L527.7,469.5 L532.0,468.5 L536.2,467.4 L540.4,466.3 L544.6,465.3 L548.8,464.2 L553.0,463.2 L557.3,462.2 L561.5,461.2 L565.7,460.2 L569.9,459.2 L574.1,458.2 L578.4,457.2 L582.6,456.3 L586.8,455.3 L591.0,454.4 L595.2,453.5 L599.5,452.6 L603.7,451.7 L607.9,450.8 L612.1,449.9 L616.3,449.0 L620.6,448.2 L624.8,447.3 L629.0,446.5 L633.2,445.7 L637.4,444.9 L641.6,444.1 L645.9,443.3 L650.1,442.5 L654.3,441.7 L658.5,441.0 L662.7,440.3 L667.0,439.5 L671.2,438.8 L675.4,438.1"/>
<path stroke="#8d69b8" stroke-width="4.6" fill="none" stroke-dasharray="4.6 7.73" d="M674.2,438.3 L678.8,437.5 L683.4,436.8 L687.9,436.0 L692.5,435.3 L697.1,434.6 L701.7,433.9 L706.3,433.2 L710.8,432.6 L715.4,431.9 L720.0,431.2 L724.6,430.6 L729.2,430.0 L733.7,429.4 L738.3,428.8 L742.9,428.2 L747.5,427.6 L752.1,427.0 L756.6,426.4 L761.2,425.9 L765.8,425.3 L770.4,424.8 L775.0,424.3 L779.5,423.8 L784.1,423.3 L788.7,422.8 L793.3,422.3 L797.9,421.8 L802.4,421.4 L807.0,420.9 L811.6,420.5 L816.2,420.0 L820.8,419.6 L825.3,419.2 L829.9,418.8 L834.5,418.4 L839.1,418.0 L843.7,417.6 L848.2,417.2 L852.8,416.9 L857.4,416.5 L862.0,416.2 L866.5,415.8 L871.1,415.5 L875.7,415.1 L880.3,414.8 L884.9,414.5 L889.4,414.2 L894.0,413.9 L898.6,413.6 L903.2,413.3 L907.8,413.0 L912.3,412.7 L916.9,412.4 L921.5,412.2 L926.1,411.9 L930.7,411.7 L935.2,411.4 L939.8,411.2 L944.4,410.9 L949.0,410.7 L953.6,410.5 L958.1,410.2 L962.7,410.0 L967.3,409.8 L971.9,409.6 L976.5,409.4 L981.0,409.2 L985.6,409.0 L990.2,408.8 L994.8,408.6 L999.4,408.4 L1003.9,408.3 L1008.5,408.1 L1013.1,407.9 L1017.7,407.7 L1022.3,407.6 L1026.8,407.4 L1031.4,407.3 L1036.0,407.1"/>
<path stroke="#000" stroke-width="2.6" fill="none" d="M228.8,122V640.5M227.4,654.9H1095.4M224.1,639.5H233.2M224.1,527.4H233.2M224.1,425.0H233.2M224.1,330.8H233.2M224.1,243.6H233.2M224.1,162.4H233.2M252.4,650.3V659.5M405.3,650.3V659.5M558.3,650.3V659.5M711.2,650.3V659.5M864.1,650.3V659.5M1017.1,650.3V659.5"/>
<path stroke="#000" stroke-width="2" fill="none" d="M328.9,652.7V657.1M481.8,652.7V657.1M634.7,652.7V657.1M787.7,652.7V657.1M940.6,652.7V657.1M1093.5,652.7V657.1"/>
<g font-family="'DejaVu Sans', sans-serif" fill="#000">
<text x="661.8" y="115.3" font-size="38.9" text-anchor="middle">Comparing ScaleRL with prevalent recipes</text>
<text x="220.9" y="651.1" font-size="29.4" text-anchor="end">0.40</text>
<text x="220.9" y="539.0" font-size="29.4" text-anchor="end">0.44</text>
<text x="220.9" y="436.6" font-size="29.4" text-anchor="end">0.48</text>
<text x="220.9" y="342.4" font-size="29.4" text-anchor="end">0.52</text>
<text x="220.9" y="255.2" font-size="29.4" text-anchor="end">0.56</text>
<text x="220.9" y="174.0" font-size="29.4" text-anchor="end">0.60</text>
<text x="252.4" y="687" font-size="29.4" text-anchor="middle">1</text>
<text x="405.3" y="687" font-size="29.4" text-anchor="middle">2</text>
<text x="558.3" y="687" font-size="29.4" text-anchor="middle">4</text>
<text x="711.2" y="687" font-size="29.4" text-anchor="middle">8</text>
<text x="864.1" y="687" font-size="29.4" text-anchor="middle">16</text>
<text x="1017.1" y="687" font-size="29.4" text-anchor="middle">32</text>
<text x="414.4" y="728.5" font-size="36">GPU Hours x 10</text>
<text x="695.2" y="715.4" font-size="25.2">3</text>
<text x="724.4" y="728.5" font-size="36">(log scale)</text>
<text transform="translate(143.5,383) rotate(-90)" font-size="36" text-anchor="middle">Pass rate (log scale)</text>
</g>
<g font-family="'DejaVu Sans Mono', monospace" font-size="29.45" fill="#000" style="white-space:pre">
<circle cx="1110.3" cy="207.4" r="6.1" fill="#3b75af"/>
<text x="1138.9" y="218.0" xml:space="preserve">ScaleRL            B: 1.97, A: 0.610</text>
<circle cx="1110.3" cy="246.6" r="6.1" fill="#ef8636"/>
<text x="1138.9" y="257.2" xml:space="preserve">MiniMax            B: 1.77, A: 0.610</text>
<circle cx="1110.3" cy="285.7" r="6.1" fill="#519e3e"/>
<text x="1138.9" y="296.3" xml:space="preserve">Magistral          B: 1.44, A: 0.535</text>
<circle cx="1110.3" cy="324.9" r="6.1" fill="#c53a32"/>
<text x="1138.9" y="335.5" xml:space="preserve">Qwen2.5 (DAPO)     B: 1.85, A: 0.515</text>
<circle cx="1110.3" cy="364.0" r="6.1" fill="#8d69b8"/>
<text x="1138.9" y="374.6" xml:space="preserve">DeepSeek (GRPO)    B: 1.17, A: 0.490</text>
</g>
<g font-family="'DejaVu Sans', sans-serif" font-size="29.5" fill="#000" style="font-variant-ligatures:none">
<text x="1174" y="442.6" text-anchor="middle" font-size="31.6" font-family="'DejaVu Sans', sans-serif">★</text>
<text x="1247.6" y="444.2">training points</text>
<text x="1174" y="482.8" text-anchor="middle" font-size="32.4" font-family="'DejaVu Sans Light','DejaVu Sans', sans-serif" font-weight="200" stroke="#000" stroke-width="0.45">×</text>
<text x="1247.6" y="483.6">extended training points</text>
<text x="1174" y="518.9" text-anchor="middle" font-size="25.8" font-family="'DejaVu Sans Light','DejaVu Sans', sans-serif" font-weight="200" stroke="#000" stroke-width="0.45">—</text>
<text x="1247.6" y="523.0">fitted curve</text>
<text x="1174" y="559.2" text-anchor="middle" font-size="37.3" font-family="'DejaVu Sans', sans-serif">--</text>
<text x="1247.6" y="562.4">extrapolated curve</text>
</g>
</svg>
<div class="ln" style="top:782.90px;letter-spacing:1.2px"><b>Figure 2&nbsp;&nbsp;ScaleRL is more scalable than prevalent RL methods</b>.&nbsp; We fit sigmoid curves (Equation <span class="l">1</span>) on <i>iid</i> validation dataset</div>
<div class="ln" style="top:822.08px;letter-spacing:1.5px">to commonly-used training recipes like DeepSeek (GRPO) (<span class="l">Guo et al.</span>, <span class="l">2025</span>), Qwen-2.5 (DAPO) (<span class="l">Yu et al.</span>, <span class="l">2025</span>),</div>
<div class="ln" style="top:861.26px;letter-spacing:0.9px">Magistral (<span class="l">Rastogi et al.</span>, <span class="l">2025</span>), and Minimax-M1 (<span class="l">MiniMax et al.</span>, <span class="l">2025</span>), and compare them with <b class="s">ScaleRL</b>. <b class="s">ScaleRL</b></div>
<div class="ln" style="top:900.44px;letter-spacing:1.2px">surpasses all other methods, achieving an asymptotic reward of <i>A</i><span class="eq">=</span>0.61.&nbsp; Stars denote evaluation points; solid curves</div>
<div class="ln" style="top:939.62px;letter-spacing:1.0px">show the fitted curve over the range used for fitting; dashed curves extrapolate beyond it.&nbsp; We validate the predictability</div>
<div class="ln" style="top:978.80px;letter-spacing:1.1px">by running each method for longer (“<span class="x">×</span>” markers), which align closely with the extrapolated curves for stable recipes</div>
<div class="ln last" style="top:1017.98px;letter-spacing:1.1px">like <b class="s">ScaleRL</b> and MiniMax.&nbsp; Further <span class="w">description</span> of the individual recipes compared are given in Appendix <span class="l">A.16</span>.</div>
</body></html>
